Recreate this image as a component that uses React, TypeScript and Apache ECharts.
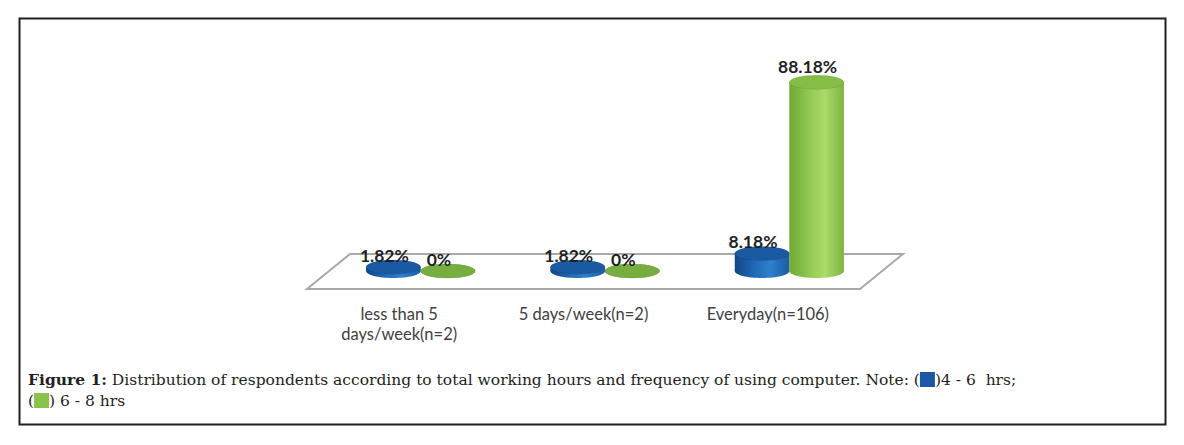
import React, { useEffect, useRef } from "react";
import * as echarts from "echarts";

const categories = ["less than 5\ndays/week(n=2)", "5 days/week(n=2)", "Everyday(n=106)"];
const hrs4to6 = [1.82, 1.82, 8.18];
const hrs6to8 = [0, 0, 88.18];
const seriesNames = ["4 - 6  hrs", "6 - 8 hrs"];
const captionBold = "Figure 1:";
const captionText =
  " Distribution of respondents according to total working hours and frequency of using computer. Note: (";

const BLUE = {
  stops: ["#0E4685", "#1E63AE", "#2E80CF", "#1A5CA3"],
  top: "#1A5AA2",
};
const GREEN = {
  stops: ["#6FA834", "#8CC44B", "#ABDA6A", "#7DB53E"],
  top: "#78AE40",
};

function makeBarRender(side: number, pal: { stops: string[]; top: string }) {
  return (params: any, api: any) => {
    const cat = api.value(0);
    const v = api.value(1);
    const base = api.coord([cat, 0]);
    const top = api.coord([cat, v]);
    const band = api.size([1, 0])[0];
    const rx = (band * 0.296) / 2;
    const ry = 7;
    const cx = base[0] + side * rx;
    const yb = base[1];
    const yt = top[1];
    const grad = {
      type: "linear",
      x: 0,
      y: 0,
      x2: 1,
      y2: 0,
      colorStops: [
        { offset: 0, color: pal.stops[0] },
        { offset: 0.3, color: pal.stops[1] },
        { offset: 0.65, color: pal.stops[2] },
        { offset: 1, color: pal.stops[3] },
      ],
    };
    const tall = yb - yt > 40;
    return {
      type: "group",
      children: [
        {
          type: "ellipse",
          shape: { cx, cy: yb, rx, ry },
          style: { fill: grad },
        },
        {
          type: "rect",
          shape: { x: cx - rx, y: yt, width: rx * 2, height: Math.max(0, yb - yt) },
          style: { fill: grad },
        },
        {
          type: "ellipse",
          shape: { cx, cy: yt, rx, ry },
          style: { fill: tall ? "#85BD47" : pal.top, stroke: "rgba(0,0,0,0.08)", lineWidth: 1 },
        },
        {
          type: "text",
          style: {
            text: v + "%",
            x: cx - 9,
            y: yt - (tall ? 16 : 12),
            align: "center",
            verticalAlign: "middle",
            fontFamily: "Lato",
            fontWeight: "bold",
            fontSize: 17.5,
            fill: "#1F1F1F",
          },
        },
      ],
    };
  };
}

function floorRender(params: any, api: any) {
  const cs = params.coordSys;
  const x0 = cs.x;
  const x1 = cs.x + cs.width;
  const yf = cs.y + cs.height;
  const dx = 43;
  const dy = 35;
  return {
    type: "polygon",
    shape: {
      points: [
        [x0, yf],
        [x1, yf],
        [x1 + dx, yf - dy],
        [x0 + dx, yf - dy],
      ],
    },
    style: { fill: "#FFFFFF", stroke: "#A9A9A9", lineWidth: 2 },
  };
}

export default function App() {
  const ref = useRef<HTMLDivElement>(null);
  useEffect(() => {
    if (!ref.current) return;
    const chart = echarts.init(ref.current, null, { renderer: "svg" });
    chart.setOption({
      animation: false,
      backgroundColor: "#FFFFFF",
      grid: [
        { left: 328.5, right: 302.5, top: 57, bottom: 174 },
        { left: 307, right: 324, top: 57, bottom: 156 },
      ],
      xAxis: [
        {
          gridIndex: 0,
          type: "category",
          data: categories,
          show: false,
        },
        {
          gridIndex: 1,
          type: "category",
          data: categories,
          axisLine: { show: false },
          axisTick: { show: false },
          axisLabel: {
            margin: 15,
            fontFamily: "Lato",
            fontSize: 16.5,
            lineHeight: 20,
            color: "#404040",
          },
        },
      ],
      yAxis: [
        { gridIndex: 0, type: "value", min: 0, max: 100, show: false },
        { gridIndex: 1, type: "value", min: 0, max: 100, show: false },
      ],
      series: [
        {
          type: "custom",
          name: "floor",
          xAxisIndex: 1,
          yAxisIndex: 1,
          z: 1,
          renderItem: floorRender,
          data: [[0, 0]],
          silent: true,
        },
        {
          type: "custom",
          name: seriesNames[0],
          xAxisIndex: 0,
          yAxisIndex: 0,
          z: 2,
          renderItem: makeBarRender(-1, BLUE),
          data: hrs4to6.map((v, i) => [i, v]),
        },
        {
          type: "custom",
          name: seriesNames[1],
          xAxisIndex: 0,
          yAxisIndex: 0,
          z: 3,
          renderItem: makeBarRender(1, GREEN),
          data: hrs6to8.map((v, i) => [i, v]),
        },
      ],
      graphic: [
        {
          type: "rect",
          shape: { x: 19.5, y: 18.5, width: 1146, height: 406 },
          style: { fill: "none", stroke: "#231F20", lineWidth: 2 },
          z: 0,
        },
        {
          type: "text",
          x: 28,
          y: 369,
          style: {
            text:
              "{b|" + captionBold + "}" + captionText + "{bl| })4 - 6  hrs;\n({gr| }) 6 - 8 hrs",
            fontFamily: "DejaVu Serif",
            fontSize: 15.5,
            lineHeight: 21,
            fill: "#231F20",
            verticalAlign: "top",
            rich: {
              b: { fontWeight: "bold", fontFamily: "DejaVu Serif", fontSize: 15.5 },
              bl: { backgroundColor: "#1D56A5", width: 15, height: 15 },
              gr: { backgroundColor: "#8BC34A", width: 15, height: 15 },
            },
          },
        },
      ],
    });
    return () => chart.dispose();
  }, []);
  return (
    <div
      ref={ref}
      style={{ position: "absolute", left: 0, top: 0, width: 1184, height: 445 }}
    />
  );
}
